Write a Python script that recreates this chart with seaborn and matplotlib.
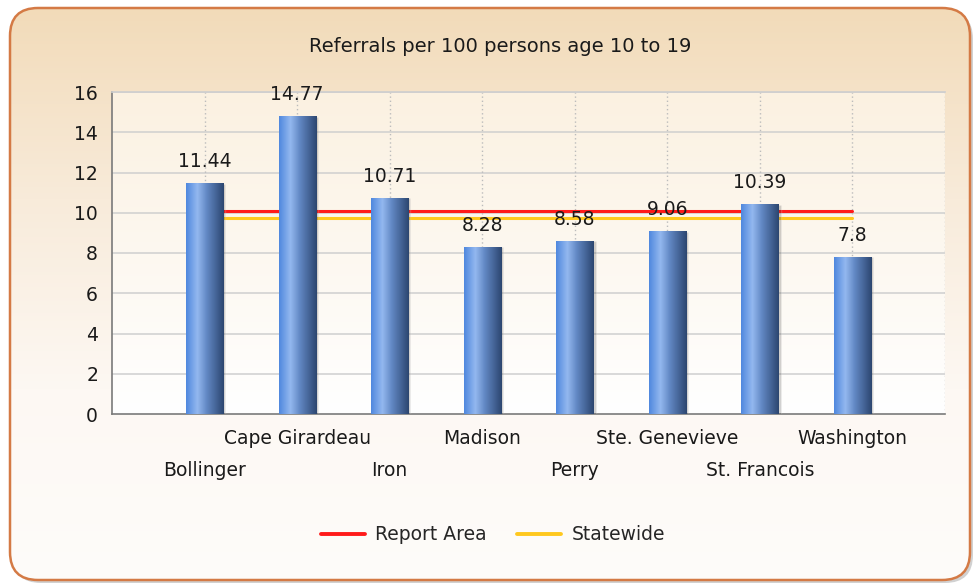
import numpy as np
import pandas as pd
import matplotlib
matplotlib.use("Agg")
import matplotlib.pyplot as plt
import seaborn as sns
from matplotlib.patches import FancyBboxPatch
from matplotlib.colors import LinearSegmentedColormap
from matplotlib.lines import Line2D

# Data
counties = ['Bollinger', 'Cape Girardeau', 'Iron', 'Madison', 'Perry',
            'Ste. Genevieve', 'St. Francois', 'Washington']
referrals = [11.44, 14.77, 10.71, 8.28, 8.58, 9.06, 10.39, 7.8]
report_area = 10.08
statewide = 9.76
y_ticks = list(range(0, 17, 2))
title = 'Referrals per 100 persons age 10 to 19'

df = pd.DataFrame({'County': counties, 'Referrals': referrals})

sns.set_theme(style='white')
plt.rcParams['font.family'] = ['DejaVu Sans']
FS = 13.5
TXT = '#1a1a1a'

fig = plt.figure(figsize=(9.77, 5.87), dpi=100)
fig.patch.set_facecolor('white')

# rounded panel with peach gradient
bg = fig.add_axes([0, 0, 1, 1], zorder=0)
bg.axis('off')
shadow = FancyBboxPatch((13, 11), 960, 572, boxstyle='round,pad=0,rounding_size=28',
                        fc='#9a9a9a', ec='none', alpha=0.45)
bg.add_patch(shadow)
panel = FancyBboxPatch((10, 8), 960, 572, boxstyle='round,pad=0,rounding_size=28',
                       fc='none', ec='#d47a45', lw=1.8, zorder=3)
bg.add_patch(panel)
clip = FancyBboxPatch((10, 8), 960, 572, boxstyle='round,pad=0,rounding_size=28',
                      fc='none', ec='none')
bg.add_patch(clip)
bg_cmap = LinearSegmentedColormap.from_list('bg', ['#f2dbb9', '#f8ebda', '#fdf8f3', '#fefcfa'])
im = bg.imshow(np.linspace(0, 1, 256).reshape(-1, 1), extent=(10, 970, 580, 8),
               cmap=bg_cmap, aspect='auto', zorder=1)
im.set_clip_path(clip)
bg.set_xlim(0, 977)
bg.set_ylim(587, 0)

# plot area, peach at the top fading to white
ax = fig.add_axes([112 / 977, 1 - 414 / 587, (945 - 112) / 977, (414 - 92) / 587], zorder=1)
ax.patch.set_alpha(0)
plot_cmap = LinearSegmentedColormap.from_list('pa', ['#fbf1e1', '#fdf8f0', '#ffffff'])
ax.imshow(np.linspace(0, 1, 256).reshape(-1, 1), extent=(0, 1, 0, 1), transform=ax.transAxes,
          cmap=plot_cmap, aspect='auto', zorder=0)

sns.barplot(data=df, x='County', y='Referrals', width=0.4, color='#4f7fc4',
            ax=ax, zorder=4, edgecolor='none')

# horizontal gradient on every bar
bar_cmap = LinearSegmentedColormap.from_list(
    'bar', [(0.0, '#4f88de'), (0.3, '#93b8ef'), (0.55, '#6288c4'), (1.0, '#2c4670')])
grad = np.linspace(0, 1, 128).reshape(1, -1)
for bar in ax.patches:
    x0, w, h = bar.get_x(), bar.get_width(), bar.get_height()
    ax.imshow(grad, extent=(x0, x0 + w, 0, h), cmap=bar_cmap, aspect='auto', zorder=5)
    ax.bar(x0 + w + 0.012, h, width=0.024, bottom=0, color='#000000', alpha=0.18, zorder=4)

ax.bar_label(ax.containers[0], labels=[f'{v:g}' for v in referrals], padding=9,
             fontsize=FS, color=TXT, zorder=7)

# reference lines sit behind the bars
xs = np.arange(len(counties))
ax.plot(xs[[0, -1]], [report_area] * 2, color='#ff1a1a', lw=2.2, zorder=3)
ax.plot(xs[[0, -1]], [statewide] * 2, color='#ffc81e', lw=2.2, zorder=3)

ax.set_xlim(-1, len(counties))
ax.set_ylim(0, 16)
ax.set_yticks(y_ticks)
ax.set_yticklabels([str(t) for t in y_ticks], fontsize=FS, color=TXT)

# staggered category labels: odd ones on the upper row, even ones on the lower row
upper = list(xs[1::2])
lower = list(xs[0::2])
ax.set_xticks([-1] + upper + [len(counties)])
ax.set_xticklabels([''] + counties[1::2] + [''], fontsize=FS, color=TXT)
ax.set_xticks(lower, minor=True)
ax.set_xticklabels(counties[0::2], minor=True, fontsize=FS, color=TXT)
ax.set_xlabel('')
ax.set_ylabel('')
ax.tick_params(axis='y', direction='out', length=5, width=1.2, color='#555555', pad=5)
ax.tick_params(axis='x', which='major', direction='out', length=4, width=1.2,
               color='#555555', pad=7)
ax.tick_params(axis='x', which='minor', direction='out', length=4, width=1.2,
               color='#555555', pad=30)

for y in y_ticks[1:]:
    ax.axhline(y, color='#cfcfcf', lw=1.1, zorder=1)
for x in list(xs) + [len(counties)]:
    ax.axvline(x, color='#bcbcbc', lw=1, ls=(0, (1, 2)), zorder=1)

for side in ['left', 'bottom']:
    ax.spines[side].set_color('#7a7a7a')
    ax.spines[side].set_linewidth(1.2)
ax.spines['top'].set_color('#cfcfcf')
ax.spines['right'].set_visible(False)

fig.text(500 / 977, 1 - 47 / 587, title, ha='center', va='center', fontsize=FS + 0.5, color=TXT)

handles = [Line2D([], [], color='#ff1a1a', lw=2.8), Line2D([], [], color='#ffc81e', lw=2.8)]
fig.legend(handles, ['Report Area', 'Statewide'], loc='center',
           bbox_to_anchor=(493 / 977, 1 - 535 / 587), ncol=2, frameon=False,
           fontsize=FS, handlelength=2.35, columnspacing=1.6, handletextpad=0.55)

fig.savefig('out.png', dpi=100)
